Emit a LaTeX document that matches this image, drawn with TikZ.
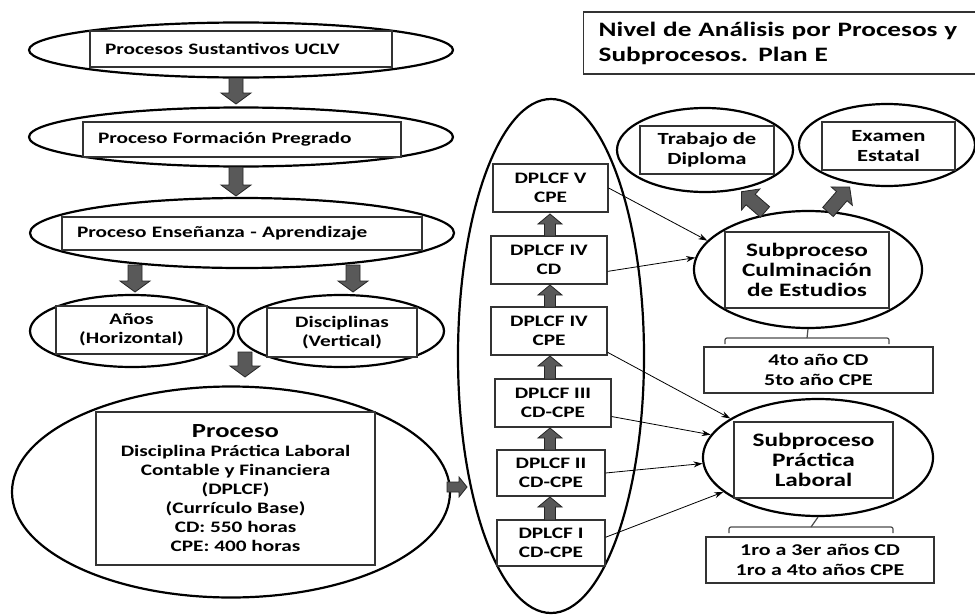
\documentclass[tikz,border=0pt]{standalone}
\usepackage{fontspec}
\setmainfont{Carlito}[FakeStretch=1.33]
\usetikzlibrary{shapes.geometric,arrows.meta,calc}
\newcommand{\barrow}[7]{\begin{scope}[shift={(#1,#2)},rotate=#3]
 \draw[blk] (0,-#5) -- ({#4-#7},-#5) -- ({#4-#7},-#6) -- (#4,0) -- ({#4-#7},#6) -- ({#4-#7},#5) -- (0,#5) -- cycle;
\end{scope}}
\begin{document}
\begin{tikzpicture}[x=1pt,y=-1pt,
  font=\bfseries\fontsize{16}{19}\selectfont,
  ell/.style={draw, ellipse, line width=2.2pt, inner sep=0pt},
  box/.style={draw=black!80, line width=1.2pt, inner sep=0pt, align=center, fill=white},
  lbox/.style={draw=black!80, line width=1.2pt, inner ysep=0pt, inner xsep=15pt, align=left, fill=white},
  big/.style={font=\bfseries\fontsize{19}{20}\selectfont},
  mid/.style={font=\bfseries\fontsize{17}{20}\selectfont},
  yrs/.style={font=\bfseries\fontsize{16.5}{19.5}\selectfont},
  thin/.style={-{Stealth[length=9pt,width=6pt]}, line width=0.8pt},
  blk/.style={draw=black!85, fill=black!65, line width=0.8pt},
  brk/.style={draw=black!70, line width=1.2pt, rounded corners=2pt}]
\useasboundingbox (0,0) rectangle (975,616);
\fill[white] (0,0) rectangle (975,616);

% left column ellipses
\node[ell, minimum width=424pt, minimum height=55pt] (e1) at (241,50) {};
\node[lbox, minimum width=302pt, minimum height=36pt, text width=272pt] (b1) at (241,49) {Procesos Sustantivos UCLV};
\node[ell, minimum width=424pt, minimum height=59pt] (e2) at (241,137) {};
\node[lbox, minimum width=318pt, minimum height=35pt, text width=288pt] (b2) at (242,139.5) {Proceso Formación Pregrado};
\node[ell, minimum width=424pt, minimum height=70pt] (e3) at (242,233) {};
\node[lbox, minimum width=360pt, minimum height=33pt, text width=330pt] (b3) at (242,233.5) {Proceso Enseñanza - Aprendizaje};
\node[ell, minimum width=204pt, minimum height=72pt] (e4) at (132,331) {};
\node[box, minimum width=151pt, minimum height=48pt] (b4) at (131.5,330) {Años\\(Horizontal)};
\node[ell, minimum width=206pt, minimum height=72pt] (e5) at (341,331) {};
\node[box, minimum width=150pt, minimum height=49pt] (b5) at (342,332.5) {Disciplinas\\(Vertical)};
\node[ell, minimum width=438pt, minimum height=211pt] (e6) at (231,492) {};
\node[box, minimum width=279pt, minimum height=153pt] (b6) at (235.5,488.5)
  {{\fontsize{20}{23}\selectfont Proceso}\\Disciplina Práctica Laboral\\Contable y Financiera\\(DPLCF)\\(Currículo Base)\\CD: 550 horas\\CPE: 400 horas};

% tall ellipse with DPLCF boxes
\node[ell, minimum width=186pt, minimum height=514pt] (e7) at (551,356) {};
\node[box, minimum width=115pt, minimum height=48pt] (d5) at (550.5,188) {DPLCF V\\CPE};
\node[box, minimum width=116pt, minimum height=48pt] (d4a) at (549,260) {DPLCF IV\\CD};
\node[box, minimum width=116pt, minimum height=48pt] (d4b) at (549,331) {DPLCF IV\\CPE};
\node[box, minimum width=116pt, minimum height=48pt] (d3) at (553,403) {DPLCF III\\CD-CPE};
\node[box, minimum width=108pt, minimum height=46pt] (d2) at (551,473) {DPLCF II\\CD-CPE};
\node[box, minimum width=108pt, minimum height=46pt] (d1) at (551,543) {DPLCF I\\CD-CPE};

% title
\node[draw=black!80, line width=1.2pt, inner xsep=15pt, inner ysep=0pt, minimum height=62pt, text width=380pt, align=left,
  font=\bfseries\fontsize{20.5}{25}\selectfont, anchor=west] (title) at (583,43) {Nivel de Análisis por Procesos y\\Subprocesos. Plan E};

% right side
\node[ell, minimum width=176pt, minimum height=84pt] (et) at (705,150) {};
\node[box, mid, minimum width=134pt, minimum height=48pt] (bt) at (707,150) {Trabajo de\\Diploma};
\node[ell, minimum width=176pt, minimum height=82pt] (ee) at (887,145) {};
\node[box, mid, minimum width=133pt, minimum height=48pt] (be) at (888.5,146) {Examen\\Estatal};
\node[ell, minimum width=228pt, minimum height=117pt] (ec) at (808,269.5) {};
\node[box, big, minimum width=164pt, minimum height=76pt] (bc) at (807,270) {Subproceso\\Culminación\\de Estudios};
\node[box, yrs, minimum width=229pt, minimum height=46pt] (y45) at (818.5,370) {4to año CD\\5to año CPE};
\node[ell, minimum width=230pt, minimum height=117pt] (ep) at (818,457.5) {};
\node[box, big, minimum width=159pt, minimum height=76pt] (bp) at (813.5,460) {Subproceso\\Práctica\\Laboral};
\node[box, yrs, minimum width=228pt, minimum height=46pt] (y14) at (820,560) {1ro a 3er años CD\\1ro a 4to años CPE};

% brackets
\coordinate (k1) at (807,338);
\draw[brk] (ec.south) -- (k1);
\draw[brk] (725,344) -- (725,338) -- (889,338) -- (889,344);
\coordinate (k2) at (811,527);
\draw[brk] (ep.south) -- (k2);
\draw[brk] (729,533) -- (729,527) -- (893,527) -- (893,533);

% block arrows
\barrow{236}{78}{-90}{26}{7}{15}{11}
\barrow{236}{167}{-90}{29}{7}{15}{11}
\barrow{135}{265}{-90}{27}{7}{15}{11}
\barrow{353}{265}{-90}{27}{7}{15}{11}
\barrow{245}{352}{-90}{25}{7}{15}{11}
\barrow{447}{487}{0}{20}{5}{10}{8}
\barrow{550}{236}{90}{22}{5.5}{12}{10}
\barrow{550}{307}{90}{22}{5.5}{12}{10}
\barrow{550}{379}{90}{23}{5.5}{12}{10}
\barrow{550}{450}{90}{22}{5.5}{12}{10}
\barrow{550}{520}{90}{23}{5.5}{12}{10}
\barrow{765}{212}{139}{31}{7}{14}{12}
\barrow{828}{212}{49}{33}{7}{14}{12}

% thin arrows
\draw[thin] (d5.east) -- (ec.164);
\draw[thin] (d4a.-11) -- (ec.174);
\draw[thin] (d4b.-20) -- (ep.156);
\draw[thin] (d3.-13) -- (ep.168);
\draw[thin] (d2.east) -- (ep.183);
\draw[thin] (d1.6) -- (ep.200);
\end{tikzpicture}
\end{document}
